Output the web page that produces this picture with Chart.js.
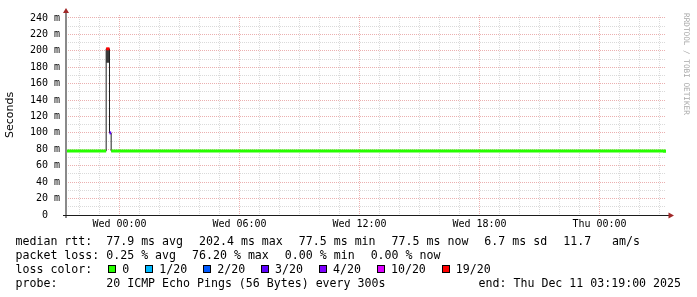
<!DOCTYPE html>
<html>
<head>
<meta charset="utf-8">
<script src="https://cdn.jsdelivr.net/npm/chart.js@4.4.1/dist/chart.umd.min.js"></script>
<style>
html,body{margin:0;padding:0;background:#fff;}
#wrap{position:relative;width:697px;height:297px;overflow:hidden;background:#fff;}
#c{position:absolute;left:0;top:0;}
.ln{position:absolute;left:15.5px;font-family:"DejaVu Sans Mono",monospace;font-size:11.6px;line-height:14px;color:#000;white-space:pre;}
.ln span{white-space:pre;}
.gap{margin-left:16px;}
.sq{display:inline-block;width:8px;height:8px;box-sizing:border-box;border:1px solid #000;margin-left:16px;margin-right:6px;}
#end{position:absolute;right:16px;font-family:"DejaVu Sans Mono",monospace;font-size:11.6px;line-height:14px;color:#000;white-space:pre;}
#wm{position:absolute;left:682px;top:13px;writing-mode:vertical-rl;font-family:"DejaVu Sans Mono",monospace;font-size:7.7px;line-height:9px;color:#a8a8a8;white-space:pre;}
</style>
</head>
<body>
<div id="wrap">
<canvas id="c" width="697" height="297"></canvas>
<div id="wm">RRDTOOL / TOBI OETIKER</div>
<div class="ln" id="l1" style="top:234.3px"></div>
<div class="ln" id="l2" style="top:248.2px"></div>
<div class="ln" id="l3" style="top:262px"></div>
<div class="ln" id="l4" style="top:275.8px"></div>
<div id="end" style="top:275.8px"></div>
</div>
<script>
// ---- data (minutes relative to Wed 00:00) ----
const sampleTime = [-160, -40, -35, -30, -25, 1635, 1640];
const medianRtt  = [77.9, 202.4, 202.4, 100.0, 77.9, 77.5, 77.5];   // ms
const lossCount  = [0, 19, 19, 3, 0, 0, 0];                          // lost of 20
const smokeLow   = [null, 185.5, 185.5, null, null, null, null];
const smokeHigh  = [null, 202.4, 202.4, null, null, null, null];

const xTickValues = [0, 360, 720, 1080, 1440];
const xTickLabels = ['Wed 00:00', 'Wed 06:00', 'Wed 12:00', 'Wed 18:00', 'Thu 00:00'];
const yTickValues = [0, 20, 40, 60, 80, 100, 120, 140, 160, 180, 200, 220, 240];
const yTickLabels = ['0  ', '20 m', '40 m', '60 m', '80 m', '100 m', '120 m', '140 m', '160 m', '180 m', '200 m', '220 m', '240 m'];

const lossLabels     = ['0', '1/20', '2/20', '3/20', '4/20', '10/20', '19/20'];
const lossThresholds = [0, 1, 2, 3, 4, 10, 19];
const lossColors     = ['#26ff00', '#00b8ff', '#0059ff', '#5e00ff', '#7e00ff', '#dd00ff', '#ff0000'];

const rttStats  = ['median rtt:  77.9 ms avg', '202.4 ms max', '77.5 ms min', '77.5 ms now', '6.7 ms sd', '11.7   am/s'];
const lossStats = ['packet loss: 0.25 % avg', '76.20 % max', '0.00 % min', '0.00 % now'];
const probeText = 'probe:       20 ICMP Echo Pings (56 Bytes) every 300s';
const endText   = 'end: Thu Dec 11 03:19:00 2025';

// ---- text lines ----
function fillItems(el, items) {
  items.forEach((t, i) => {
    const s = document.createElement('span');
    s.textContent = t;
    if (i > 0) s.className = 'gap';
    el.appendChild(s);
  });
}
fillItems(document.getElementById('l1'), rttStats);
fillItems(document.getElementById('l2'), lossStats);
(function () {
  const el = document.getElementById('l3');
  const h = document.createElement('span'); h.textContent = 'loss color:'; el.appendChild(h);
  lossLabels.forEach((lab, i) => {
    const sq = document.createElement('span'); sq.className = 'sq'; sq.style.background = lossColors[i]; el.appendChild(sq);
    const t = document.createElement('span'); t.textContent = lab; el.appendChild(t);
  });
})();
document.getElementById('l4').textContent = probeText;
document.getElementById('end').textContent = endText;

// ---- derived series ----
function bucketOf(n) { let b = 0; lossThresholds.forEach((th, i) => { if (n >= th) b = i; }); return b; }
function runData(values, keep) {
  return sampleTime.map((t, i) => {
    if (keep(i) && values[i] != null) return { x: t, y: values[i] };
    if (i > 0 && keep(i - 1) && values[i - 1] != null) return { x: t, y: values[i - 1] };
    return { x: t, y: null };
  });
}

const STEP = 'before';
const datasets = [];
datasets.push({ label: 'smokeLow', data: runData(smokeLow, i => smokeLow[i] != null), stepped: STEP,
  borderColor: 'rgba(0,0,0,0)', borderWidth: 1, pointRadius: 0, fill: false, order: 2 });
datasets.push({ label: 'smokeHigh', data: runData(smokeHigh, i => smokeHigh[i] != null), stepped: STEP,
  borderColor: 'rgba(0,0,0,0)', borderWidth: 1, pointRadius: 0, fill: 0, backgroundColor: '#3a3a3a', order: 2 });
datasets.push({ label: 'median', data: sampleTime.map((t, i) => ({ x: t, y: medianRtt[i] })), stepped: STEP,
  borderColor: '#202020', borderWidth: 1, pointRadius: 0, fill: false, order: 1 });
lossLabels.forEach((lab, b) => {
  datasets.push({ label: lab, data: runData(medianRtt, i => bucketOf(lossCount[i]) === b), stepped: STEP,
    borderColor: lossColors[b], borderWidth: 3, borderCapStyle: 'butt', pointRadius: 0, fill: false,
    spanGaps: false, order: 0 });
});

const xGrid = []; for (let m = -120; m <= 1620; m += 60) xGrid.push(m);
const yGrid = []; for (let v = 0; v <= 240; v += 10) yGrid.push(v);

const MAJOR = '#ebb0b0', MINOR = '#dadada';

const axesPlugin = {
  id: 'rrdAxes',
  afterDatasetsDraw(chart) {
    const { ctx, chartArea: a } = chart;
    ctx.save();
    ctx.fillStyle = '#8a8a8a';
    ctx.fillRect(a.left - 1, a.top - 2, 2, a.bottom - a.top + 5);
    ctx.fillStyle = '#1c1c1c';
    ctx.fillRect(a.left - 3, a.bottom, a.right - a.left + 6, 1);
    ctx.fillStyle = '#a02828';
    ctx.beginPath();
    ctx.moveTo(a.left, a.top - 7);
    ctx.lineTo(a.left - 3, a.top - 2);
    ctx.lineTo(a.left + 3, a.top - 2);
    ctx.closePath(); ctx.fill();
    ctx.beginPath();
    ctx.moveTo(a.right + 8, a.bottom + 0.5);
    ctx.lineTo(a.right + 2.5, a.bottom - 2.5);
    ctx.lineTo(a.right + 2.5, a.bottom + 3.5);
    ctx.closePath(); ctx.fill();
    ctx.restore();
  }
};

new Chart(document.getElementById('c'), {
  type: 'line',
  data: { datasets },
  options: {
    responsive: false,
    devicePixelRatio: 1,
    animation: false,
    events: [],
    layout: { padding: { left: 0, right: 31, top: 15, bottom: 62 } },
    plugins: { legend: { display: false }, tooltip: { enabled: false } },
    scales: {
      x: {
        type: 'linear', min: -160.5, max: 1639.5,
        afterBuildTicks: s => { s.ticks = xGrid.map(v => ({ value: v })); },
        afterFit: s => { s.height = 20; },
        grid: { color: c => (c.tick && xTickValues.includes(c.tick.value)) ? MAJOR : MINOR, lineWidth: 1, drawTicks: false, tickLength: 0 },
        border: { display: false, dash: [1, 1] },
        ticks: {
          autoSkip: false, maxRotation: 0, minRotation: 0, padding: 3, color: '#000',
          font: { family: 'DejaVu Sans Mono', size: 10 },
          callback: v => { const k = xTickValues.indexOf(v); return k >= 0 ? xTickLabels[k] : ''; }
        }
      },
      y: {
        type: 'linear', min: 0, max: 243.6,
        afterBuildTicks: s => { s.ticks = yGrid.map(v => ({ value: v })); },
        afterFit: s => { s.width = 66; },
        grid: { color: c => (c.tick && yTickValues.includes(c.tick.value)) ? MAJOR : MINOR, lineWidth: 1, drawTicks: false, tickLength: 0 },
        border: { display: false, dash: [1, 1] },
        title: { display: true, text: 'Seconds', color: '#000', font: { family: 'DejaVu Sans', size: 11 }, padding: { top: 4, bottom: 0 } },
        ticks: {
          autoSkip: false, padding: 6, color: '#000',
          font: { family: 'DejaVu Sans Mono', size: 10 },
          callback: v => { const k = yTickValues.indexOf(v); return k >= 0 ? yTickLabels[k] : ''; }
        }
      }
    }
  },
  plugins: [axesPlugin]
});
</script>
</body>
</html>
